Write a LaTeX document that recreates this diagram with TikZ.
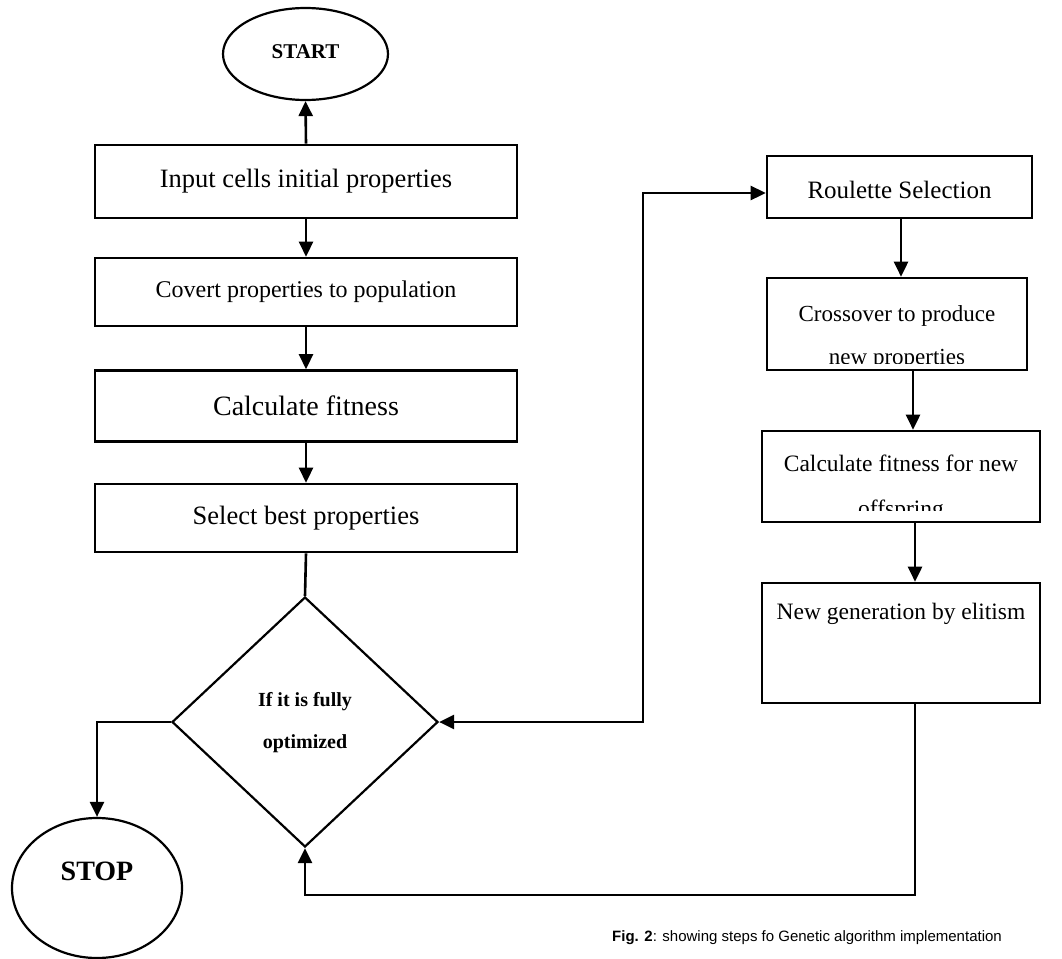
\documentclass[tikz,border=0pt]{standalone}
\usepackage{fontspec}
\setmainfont{Liberation Serif}
\newfontfamily\capfont{Liberation Sans}
\usetikzlibrary{shapes.geometric,arrows.meta,calc}
\newcommand{\fsz}[1]{\fontsize{#1}{#1}\selectfont}
\begin{document}
\begin{tikzpicture}[x=1pt,y=-1pt,
  box/.style={draw,line width=2.6pt,inner sep=0pt,rectangle},
  oval/.style={draw,ellipse,line width=2.2pt,inner sep=0pt},
  lnk/.style={line width=2.6pt},
  arr/.style={line width=2.6pt,-{Triangle[length=15pt,width=14pt]}},
  arrboth/.style={line width=2.6pt,{Triangle[length=15pt,width=14pt]}-{Triangle[length=15pt,width=14pt]}},
  txt/.style={inner sep=0pt,align=center}]
\useasboundingbox (0,0) rectangle (1062,958);

% left column
\node[oval,minimum width=165pt,minimum height=92pt] (start) at (305.5,54) {};
\node[txt,font=\fsz{21}\bfseries] (startlbl) at (305.5,52) {START};
\node[box,minimum width=422pt,minimum height=73pt,font=\fsz{26.5}] (input) at (306,181.5) {Input cells initial properties};
\node[box,minimum width=422pt,minimum height=68pt,font=\fsz{24}] (covert) at (306,292) {Covert properties to population};
\node[box,minimum width=422pt,minimum height=71pt,font=\fsz{28}] (calc) at (306,406) {Calculate fitness};
\node[box,minimum width=422pt,minimum height=68pt,font=\fsz{26.5}] (select) at (306,518) {Select best properties};

\node[draw,diamond,line width=2.2pt,minimum width=266pt,minimum height=250pt,inner sep=0pt] (dia) at (305,722) {};
\node[txt,font=\fsz{20}\bfseries] (dia1) at (305,702) {If it is fully};
\node[txt,font=\fsz{20}\bfseries] (dia2) at (305,744) {optimized};

\node[oval,minimum width=170pt,minimum height=140pt] (stop) at (97,888) {};
\node[txt,font=\fsz{28}\bfseries] (stoplbl) at (97,871) {STOP};

% right column
\node[box,minimum width=265pt,minimum height=62pt] (roul) at (899.5,187) {};
\node[txt,font=\fsz{25}] (roullbl) at (899.5,190) {Roulette Selection};

\node[box,minimum width=260pt,minimum height=92pt] (cross) at (897,324) {};
\begin{scope}
  \clip (767,278) rectangle (1027,363);
  \node[txt,font=\fsz{23},anchor=base] (cross1) at (897,321) {Crossover to produce};
  \node[txt,font=\fsz{23},anchor=base] (cross2) at (897,364) {new properties};
\end{scope}

\node[box,minimum width=278pt,minimum height=91pt] (cfit) at (901,476.5) {};
\begin{scope}
  \clip (762,431) rectangle (1040,510);
  \node[txt,font=\fsz{23.5},anchor=base] (cfit1) at (901,471) {Calculate fitness for new};
  \node[txt,font=\fsz{23.5},anchor=base] (cfit2) at (901,516) {offspring};
\end{scope}

\node[box,minimum width=278pt,minimum height=120pt] (newg) at (901,643) {};
\node[txt,font=\fsz{23.5}] (newglbl) at (901,614) {New generation by elitism};

% caption
\node[anchor=base west,inner sep=0pt,font=\capfont\fsz{15}] (cap) at (612,941) {\textbf{Fig. 2}: showing steps fo Genetic algorithm implementation};

% helper coordinates
\coordinate (xa) at (901,0);
\coordinate (xb) at (913,0);
\coordinate (xc) at (915,0);
\coordinate (junc) at (643,722);
\coordinate (ret) at (915,895);
\coordinate (retl) at (305,895);

% connectors
\draw[arr] (input.north) -- (start.south);
\draw[arr] (input.south) -- (covert.north);
\draw[arr] (covert.south) -- (calc.north);
\draw[arr] (calc.south) -- (select.north);
\draw[lnk] (select.south) -- (dia.north);
\draw[arr] (dia.west) -| (stop.north);
\draw[arrboth] (dia.east) -- (junc) |- ($(roul.west)+(0,6)$);
\draw[arr] (roul.south -| xa) -- (cross.north -| xa);
\draw[arr] (cross.south -| xb) -- (cfit.north -| xb);
\draw[arr] (cfit.south -| xc) -- (newg.north -| xc);
\draw[arr] (newg.south -| xc) -- (ret) -- (retl) -- (dia.south);
\end{tikzpicture}
\end{document}
